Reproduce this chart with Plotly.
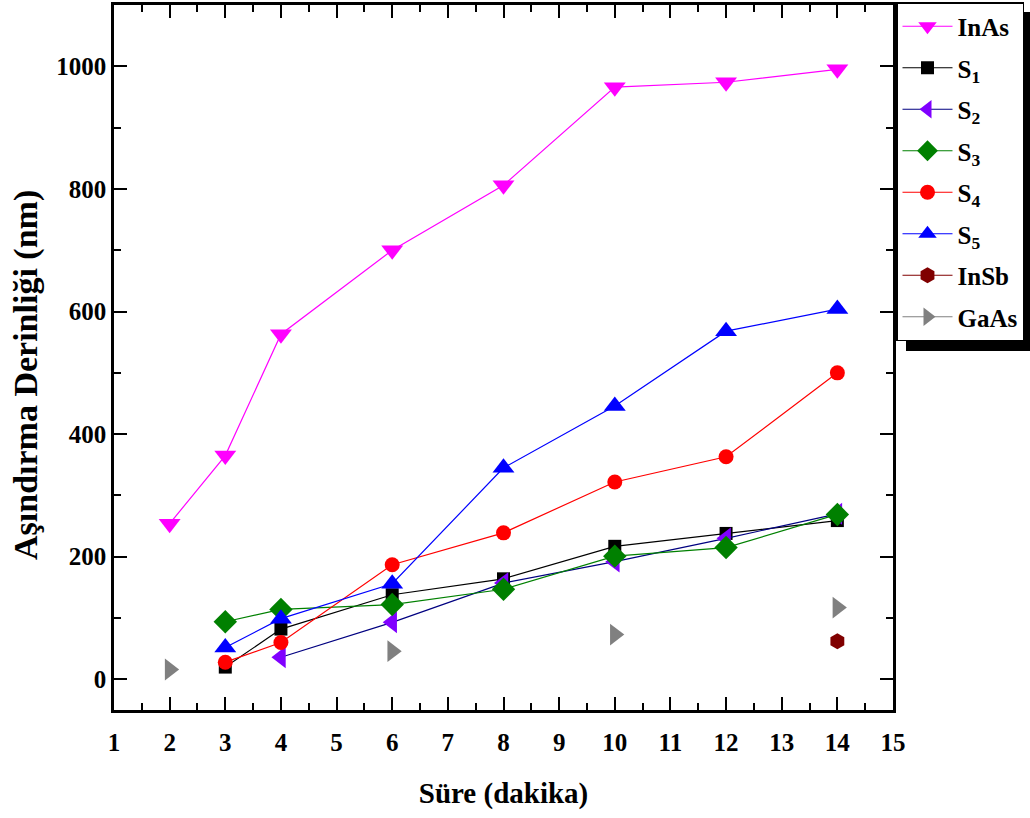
import plotly.graph_objects as go

x_main = [3, 4, 6, 8, 10, 12, 14]
x_inas = [2, 3, 4, 6, 8, 10, 12, 14]
inas = [254, 365, 563, 700, 806, 966, 974, 995]
s1 = [20, 82, 138, 164, 217, 238, 259]
s2 = [None, 36, 93, 157, 192, 230, 270]
s3 = [94, 114, 122, 147, 201, 215, 269]
s4 = [28, 60, 187, 239, 322, 363, 500]
s5 = [52, 99, 156, 345, 446, 568, 604]
x_insb = [14]
insb = [62]
x_gaas = [2, 6, 10, 14]
gaas = [16, 46, 73, 117]

FONT = "Liberation Serif"

fig = go.Figure()

def add(name, xs, ys, line_color, marker_color, symbol, size, gap=False):
    if gap:
        xx, yy = [], []
        for a, b in zip(xs, ys):
            xx += [a, None]
            yy += [b, None]
        xs, ys = xx, yy
    fig.add_trace(go.Scatter(
        x=xs, y=ys, name=name, mode="lines+markers",
        line=dict(color=line_color, width=1.2),
        marker=dict(symbol=symbol, color=marker_color, size=size, line=dict(width=0)),
        connectgaps=False, legendgroup=name,
    ))

add("InAs", x_inas, inas, "#FF00FF", "#FF00FF", "triangle-down", 19)
add("S<sub>1</sub>", x_main, s1, "#000000", "#000000", "square", 13)
add("S<sub>2</sub>", x_main, s2, "#000080", "#8000FF", "triangle-left", 19)
add("S<sub>3</sub>", x_main, s3, "#008000", "#008000", "diamond", 18)
add("S<sub>4</sub>", x_main, s4, "#FF0000", "#FF0000", "circle", 15)
add("S<sub>5</sub>", x_main, s5, "#0000FF", "#0000FF", "triangle-up", 19)
add("InSb", x_insb, insb, "#800000", "#800000", "hexagon", 16, gap=True)
add("GaAs", x_gaas, gaas, "#808080", "#808080", "triangle-right", 19, gap=True)

axis_common = dict(
    showline=True, linecolor="black", linewidth=2.5, mirror="allticks",
    ticks="inside", ticklen=13, tickwidth=2, tickcolor="black",
    showgrid=False, zeroline=False,
    tickfont=dict(family=FONT, size=25, color="black", weight="bold"),
)

fig.update_xaxes(
    range=[1, 15], dtick=1, tick0=1, ticklabelstandoff=8,
    minor=dict(ticks="inside", ticklen=7, tickwidth=2, dtick=0.5, tick0=1, tickcolor="black"),
    title=dict(text="Süre (dakika)", font=dict(family=FONT, size=29, color="black", weight="bold"), standoff=28),
    **axis_common,
)
fig.update_yaxes(
    range=[-50, 1100], dtick=200, tick0=0, ticklabelstandoff=0,
    minor=dict(ticks="inside", ticklen=7, tickwidth=2, dtick=100, tick0=0, tickcolor="black"),
    **axis_common,
)

fig.add_annotation(
    text="Aşındırma Derinliği (nm)", textangle=-90,
    xref="paper", yref="paper", x=(26 - 114) / 779, y=(710 - 375) / 705,
    xanchor="center", yanchor="middle", showarrow=False,
    font=dict(family=FONT, size=34, color="black", weight="bold"),
)

fig.add_shape(type="rect", xref="paper", yref="paper",
              x0=(906 - 114) / 779, x1=1.3, y0=(710 - 351) / 705, y1=(710 - 12) / 705,
              fillcolor="black", line=dict(width=0), layer="below")

fig.update_layout(
    width=1030, height=818,
    margin=dict(l=114, r=137, t=5, b=108, autoexpand=False),
    paper_bgcolor="white", plot_bgcolor="white",
    legend=dict(
        x=(896 - 114) / 779, y=(710 - 2) / 705, xanchor="left", yanchor="top",
        bgcolor="white", bordercolor="black", borderwidth=1.5,
        font=dict(family=FONT, size=25, color="black", weight="bold"),
        itemwidth=50, tracegroupgap=6,
    ),
    font=dict(family=FONT),
    showlegend=True,
)

fig.write_html("out.html", config={"displayModeBar": False},
               post_script="document.body.style.margin='0';")
